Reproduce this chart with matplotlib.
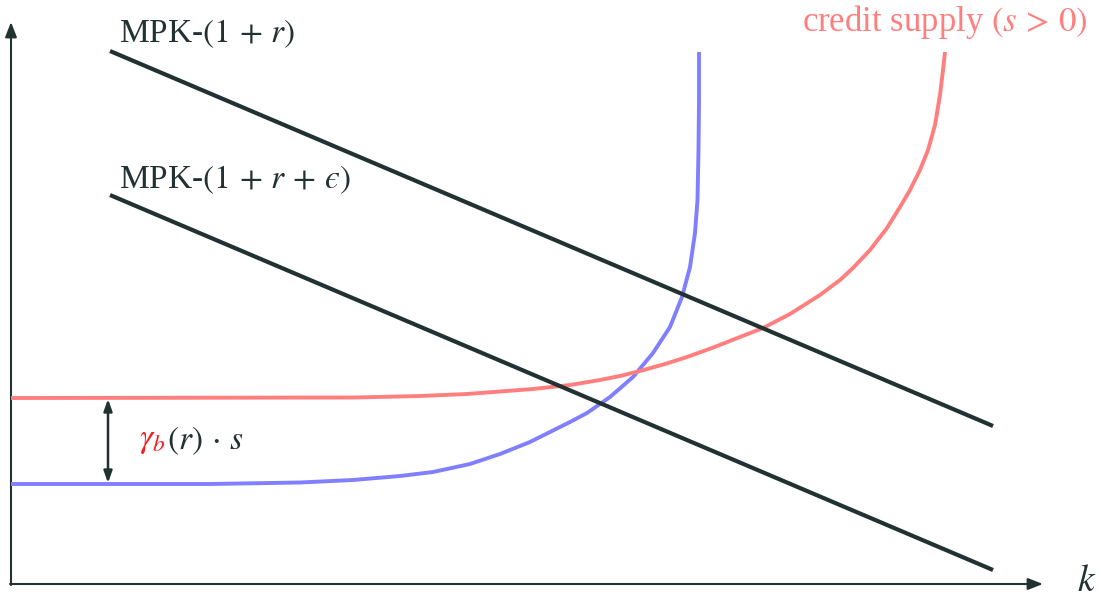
import matplotlib
matplotlib.use("Agg")
import matplotlib.pyplot as plt

plt.rcParams['font.family'] = 'serif'
plt.rcParams['font.serif'] = ['Liberation Serif', 'DejaVu Serif']
plt.rcParams['mathtext.fontset'] = 'stix'

# Schematic coordinates (canvas units, y grows downward)
mpk_r_x = [110, 993]
mpk_r_y = [51, 426]
mpk_re_x = [110, 993]
mpk_re_y = [195, 570]

demand_x = [11, 210, 300, 353, 400, 433, 470, 500, 530, 550, 570, 587, 600, 610,
            633, 653, 670, 682, 690, 695, 697.5, 698.5, 699, 699]
demand_y = [484, 484, 482.5, 480, 476, 472, 464, 454, 442, 432, 422, 413, 404, 397,
            377, 353, 327, 297, 267, 233, 200, 150, 100, 52]

supply_x = [11, 355, 420, 467, 533, 570, 600, 620, 640, 665, 687, 712, 740, 763, 790, 820,
            840, 853, 870, 887, 900, 910, 920, 928, 935, 940, 943, 945]
supply_y = [398, 397.5, 396, 394, 389, 385, 380, 376, 371, 364, 357, 348, 337, 328, 314, 295,
            280, 268, 250, 228, 207, 190, 170, 150, 125, 95, 70, 52]

gap_x = 108
gap_top = 398
gap_bottom = 484

ink = '#223131'
red = '#ff7f7f'
blue = '#7f7fff'

fig = plt.figure(figsize=(11.01, 6.02), dpi=100)
ax = fig.add_axes([0, 0, 1, 1])
ax.set_xlim(0, 1101)
ax.set_ylim(602, 0)
ax.axis('off')

# axes with arrowheads
ax.annotate('', xy=(11, 22), xytext=(11, 585),
            arrowprops=dict(arrowstyle='-|>,head_length=0.9,head_width=0.35', color=ink, lw=1.5, shrinkA=0, shrinkB=0))
ax.annotate('', xy=(1043, 584), xytext=(10, 584),
            arrowprops=dict(arrowstyle='-|>,head_length=0.9,head_width=0.35', color=ink, lw=1.5, shrinkA=0, shrinkB=0))
ax.text(1087, 582, r'$k$', fontsize=27, color=ink, ha='center', va='center')

# curves
ax.plot(demand_x, demand_y, color=blue, lw=2.8, solid_capstyle='butt', solid_joinstyle='round', zorder=3)
ax.plot(supply_x, supply_y, color=red, lw=2.8, solid_capstyle='butt', solid_joinstyle='round', zorder=3)
ax.plot(mpk_r_x, mpk_r_y, color=ink, lw=3.0, solid_capstyle='butt', zorder=4)
ax.plot(mpk_re_x, mpk_re_y, color=ink, lw=3.0, solid_capstyle='butt', zorder=4)

# gap arrow
ax.annotate('', xy=(gap_x, gap_top + 1), xytext=(gap_x, gap_bottom - 1),
            arrowprops=dict(arrowstyle='<|-|>,head_length=0.7,head_width=0.25', color=ink, lw=1.8, shrinkA=0, shrinkB=0))

# labels
ax.text(119, 34, r'MPK-$(1\,+\,r)$', fontsize=24, color=ink, ha='left', va='center')
ax.text(119, 180, 'MPK-$(1\\,+\\,r\\,+\\,\u03f5)$', fontsize=24, color=ink, ha='left', va='center')
ax.text(1088, 22, r'credit supply $(s\,>\,0)$', fontsize=25, color=red, ha='right', va='center')
ax.text(139, 441, r'$\gamma_b$', fontsize=24, color='#ee2222', ha='left', va='center')
ax.text(167, 441, r'$(r)\,\cdot\,s$', fontsize=24, color=ink, ha='left', va='center')

fig.savefig('out.png', dpi=100)
